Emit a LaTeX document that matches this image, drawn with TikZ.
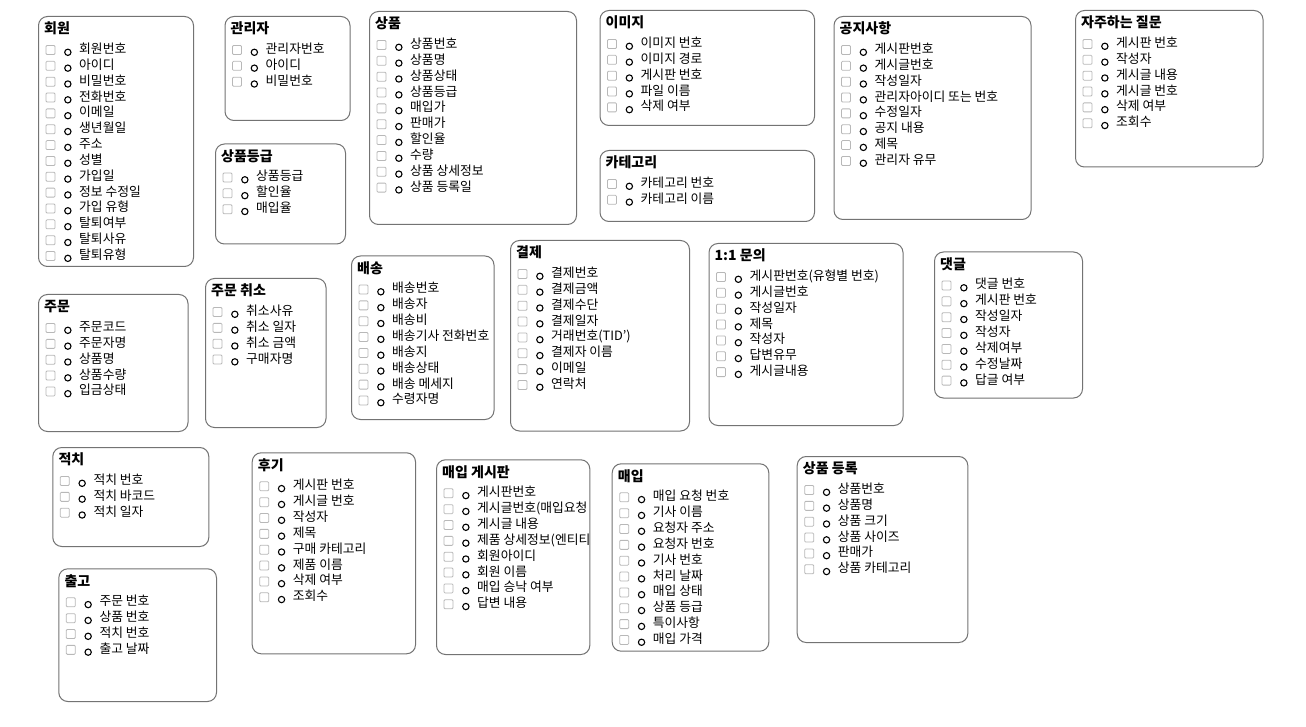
\documentclass[tikz,border=0pt]{standalone}
\usepackage{fontspec}
\setmainfont{Noto Sans CJK KR}
\usetikzlibrary{positioning,calc}

\begin{document}
\begin{tikzpicture}[
  x=1pt, y=-1pt,
  font=\fontsize{12.8}{15}\selectfont,
  tbl/.style={draw=black!55, line width=1pt, rounded corners=9pt, anchor=north west,
              inner sep=0pt, fill=white},
  ttl/.style={font=\fontsize{14}{16}\selectfont\bfseries, anchor=west, inner sep=0pt},
  fld/.style={anchor=west, inner sep=0pt, text height=9.5pt, text depth=2.5pt},
  chk/.style={draw=black!28, line width=0.8pt, rounded corners=1pt, minimum size=9pt,
              inner sep=0pt, outer sep=0pt},
  dot/.style={circle, draw=black, line width=1.1pt, minimum size=6.3pt, inner sep=0pt,
              outer sep=0pt},
]
\useasboundingbox (0,0) rectangle (1306,727);

%% ---------- top row ----------
\node[tbl, minimum width=155pt, minimum height=250pt] (memb) at (38,16) {};
\node[ttl] (memb-t) at ($(memb.north west)+(6,12.5)$) {회원};
\foreach \t [count=\i] in {회원번호,아이디,비밀번호,전화번호,이메일,생년월일,주소,성별,가입일,정보 수정일,가입 유형,탈퇴여부,탈퇴사유,탈퇴유형} {
  \node[fld] (memb-\i) at ($(memb.north west)+(41,{34+15.85*(\i-1)})$) {\t};
  \node[chk, left=24pt of memb-\i] (memb-c\i) {};
  \node[dot, left=8pt of memb-\i, yshift=-2.3pt] (memb-o\i) {};
}

\node[tbl, minimum width=125pt, minimum height=104pt] (admin) at (224.5,16) {};
\node[ttl] (admin-t) at ($(admin.north west)+(6,12.5)$) {관리자};
\foreach \t [count=\i] in {관리자번호,아이디,비밀번호} {
  \node[fld] (admin-\i) at ($(admin.north west)+(41,{34+15.85*(\i-1)})$) {\t};
  \node[chk, left=24pt of admin-\i] (admin-c\i) {};
  \node[dot, left=8pt of admin-\i, yshift=-2.3pt] (admin-o\i) {};
}

\node[tbl, minimum width=130pt, minimum height=100pt] (grade) at (215,143.5) {};
\node[ttl] (grade-t) at ($(grade.north west)+(6,12.5)$) {상품등급};
\foreach \t [count=\i] in {상품등급,할인율,매입율} {
  \node[fld] (grade-\i) at ($(grade.north west)+(41,{34+15.85*(\i-1)})$) {\t};
  \node[chk, left=24pt of grade-\i] (grade-c\i) {};
  \node[dot, left=8pt of grade-\i, yshift=-2.3pt] (grade-o\i) {};
}

\node[tbl, minimum width=207pt, minimum height=213pt] (prod) at (369,11) {};
\node[ttl] (prod-t) at ($(prod.north west)+(6,12.5)$) {상품};
\foreach \t [count=\i] in {상품번호,상품명,상품상태,상품등급,매입가,판매가,할인율,수량,상품 상세정보,상품 등록일} {
  \node[fld] (prod-\i) at ($(prod.north west)+(41,{34+15.85*(\i-1)})$) {\t};
  \node[chk, left=24pt of prod-\i] (prod-c\i) {};
  \node[dot, left=8pt of prod-\i, yshift=-2.3pt] (prod-o\i) {};
}

\node[tbl, minimum width=214.5pt, minimum height=115pt] (img) at (599.5,10) {};
\node[ttl] (img-t) at ($(img.north west)+(6,12.5)$) {이미지};
\foreach \t [count=\i] in {이미지 번호,이미지 경로,게시판 번호,파일 이름,삭제 여부} {
  \node[fld] (img-\i) at ($(img.north west)+(41,{34+15.85*(\i-1)})$) {\t};
  \node[chk, left=24pt of img-\i] (img-c\i) {};
  \node[dot, left=8pt of img-\i, yshift=-2.3pt] (img-o\i) {};
}

\node[tbl, minimum width=214.5pt, minimum height=71pt] (cat) at (599.5,150) {};
\node[ttl] (cat-t) at ($(cat.north west)+(6,12.5)$) {카테고리};
\foreach \t [count=\i] in {카테고리 번호,카테고리 이름} {
  \node[fld] (cat-\i) at ($(cat.north west)+(41,{34+15.85*(\i-1)})$) {\t};
  \node[chk, left=24pt of cat-\i] (cat-c\i) {};
  \node[dot, left=8pt of cat-\i, yshift=-2.3pt] (cat-o\i) {};
}

\node[tbl, minimum width=197pt, minimum height=203pt] (notice) at (833.5,16) {};
\node[ttl] (notice-t) at ($(notice.north west)+(6,12.5)$) {공지사항};
\foreach \t [count=\i] in {게시판번호,게시글번호,작성일자,관리자아이디 또는 번호,수정일자,공지 내용,제목,관리자 유무} {
  \node[fld] (notice-\i) at ($(notice.north west)+(41,{34+15.85*(\i-1)})$) {\t};
  \node[chk, left=24pt of notice-\i] (notice-c\i) {};
  \node[dot, left=8pt of notice-\i, yshift=-2.3pt] (notice-o\i) {};
}

\node[tbl, minimum width=187.5pt, minimum height=156.5pt] (faq) at (1075,10) {};
\node[ttl] (faq-t) at ($(faq.north west)+(6,12.5)$) {자주하는 질문};
\foreach \t [count=\i] in {게시판 번호,작성자,게시글 내용,게시글 번호,삭제 여부,조회수} {
  \node[fld] (faq-\i) at ($(faq.north west)+(41,{34+15.85*(\i-1)})$) {\t};
  \node[chk, left=24pt of faq-\i] (faq-c\i) {};
  \node[dot, left=8pt of faq-\i, yshift=-2.3pt] (faq-o\i) {};
}

%% ---------- middle row ----------
\node[tbl, minimum width=149.5pt, minimum height=137pt] (order) at (38,294) {};
\node[ttl] (order-t) at ($(order.north west)+(6,12.5)$) {주문};
\foreach \t [count=\i] in {주문코드,주문자명,상품명,상품수량,입금상태} {
  \node[fld] (order-\i) at ($(order.north west)+(41,{34+15.85*(\i-1)})$) {\t};
  \node[chk, left=24pt of order-\i] (order-c\i) {};
  \node[dot, left=8pt of order-\i, yshift=-2.3pt] (order-o\i) {};
}

\node[tbl, minimum width=120.5pt, minimum height=149pt] (cancel) at (205,278) {};
\node[ttl] (cancel-t) at ($(cancel.north west)+(6,12.5)$) {주문 취소};
\foreach \t [count=\i] in {취소사유,취소 일자,취소 금액,구매자명} {
  \node[fld] (cancel-\i) at ($(cancel.north west)+(41,{34+15.85*(\i-1)})$) {\t};
  \node[chk, left=24pt of cancel-\i] (cancel-c\i) {};
  \node[dot, left=8pt of cancel-\i, yshift=-2.3pt] (cancel-o\i) {};
}

\node[tbl, minimum width=142.5pt, minimum height=163.5pt] (ship) at (351,255.5) {};
\node[ttl] (ship-t) at ($(ship.north west)+(6,12.5)$) {배송};
\begin{scope}
  \clip (ship.north west) rectangle (ship.south east);
  \foreach \t [count=\i] in {배송번호,배송자,배송비,배송기사 전화번호,배송지,배송상태,배송 메세지,수령자명} {
    \node[fld] (ship-\i) at ($(ship.north west)+(41,{34+15.85*(\i-1)})$) {\t};
    \node[chk, left=24pt of ship-\i] (ship-c\i) {};
    \node[dot, left=8pt of ship-\i, yshift=-2.3pt] (ship-o\i) {};
  }
\end{scope}

\node[tbl, minimum width=179pt, minimum height=190.5pt] (pay) at (510,240) {};
\node[ttl] (pay-t) at ($(pay.north west)+(6,12.5)$) {결제};
\foreach \t [count=\i] in {결제번호,결제금액,결제수단,결제일자,거래번호(TID'),결제자 이름,이메일,연락처} {
  \node[fld] (pay-\i) at ($(pay.north west)+(41,{34+15.85*(\i-1)})$) {\t};
  \node[chk, left=24pt of pay-\i] (pay-c\i) {};
  \node[dot, left=8pt of pay-\i, yshift=-2.3pt] (pay-o\i) {};
}

\node[tbl, minimum width=194pt, minimum height=182pt] (qna) at (708.5,243) {};
\node[ttl] (qna-t) at ($(qna.north west)+(6,12.5)$) {1:1 문의};
\foreach \t [count=\i] in {게시판번호(유형별 번호),게시글번호,작성일자,제목,작성자,답변유무,게시글내용} {
  \node[fld] (qna-\i) at ($(qna.north west)+(41,{34+15.85*(\i-1)})$) {\t};
  \node[chk, left=24pt of qna-\i] (qna-c\i) {};
  \node[dot, left=8pt of qna-\i, yshift=-2.3pt] (qna-o\i) {};
}

\node[tbl, minimum width=148pt, minimum height=146pt] (cmt) at (934,251.5) {};
\node[ttl] (cmt-t) at ($(cmt.north west)+(6,12.5)$) {댓글};
\foreach \t [count=\i] in {댓글 번호,게시판 번호,작성일자,작성자,삭제여부,수정날짜,답글 여부} {
  \node[fld] (cmt-\i) at ($(cmt.north west)+(41,{34+15.85*(\i-1)})$) {\t};
  \node[chk, left=24pt of cmt-\i] (cmt-c\i) {};
  \node[dot, left=8pt of cmt-\i, yshift=-2.3pt] (cmt-o\i) {};
}

%% ---------- bottom row ----------
\node[tbl, minimum width=156pt, minimum height=99pt] (stock) at (52.3,447) {};
\node[ttl] (stock-t) at ($(stock.north west)+(6,12.5)$) {적치};
\foreach \t [count=\i] in {적치 번호,적치 바코드,적치 일자} {
  \node[fld] (stock-\i) at ($(stock.north west)+(41,{34+15.85*(\i-1)})$) {\t};
  \node[chk, left=24pt of stock-\i] (stock-c\i) {};
  \node[dot, left=8pt of stock-\i, yshift=-2.3pt] (stock-o\i) {};
}

\node[tbl, minimum width=157.7pt, minimum height=132.7pt] (outb) at (58.3,568.3) {};
\node[ttl] (outb-t) at ($(outb.north west)+(6,12.5)$) {출고};
\foreach \t [count=\i] in {주문 번호,상품 번호,적치 번호,출고 날짜} {
  \node[fld] (outb-\i) at ($(outb.north west)+(41,{34+15.85*(\i-1)})$) {\t};
  \node[chk, left=24pt of outb-\i] (outb-c\i) {};
  \node[dot, left=8pt of outb-\i, yshift=-2.3pt] (outb-o\i) {};
}

\node[tbl, minimum width=163.3pt, minimum height=201pt] (review) at (251.7,452.3) {};
\node[ttl] (review-t) at ($(review.north west)+(6,12.5)$) {후기};
\foreach \t [count=\i] in {게시판 번호,게시글 번호,작성자,제목,구매 카테고리,제품 이름,삭제 여부,조회수} {
  \node[fld] (review-\i) at ($(review.north west)+(41,{34+15.85*(\i-1)})$) {\t};
  \node[chk, left=24pt of review-\i] (review-c\i) {};
  \node[dot, left=8pt of review-\i, yshift=-2.3pt] (review-o\i) {};
}

\node[tbl, minimum width=153.3pt, minimum height=194.7pt] (bbuy) at (436,459.3) {};
\node[ttl] (bbuy-t) at ($(bbuy.north west)+(6,12.5)$) {매입 게시판};
\begin{scope}
  \clip (bbuy.north west) rectangle ($(bbuy.south east)+(-1,0)$);
  \foreach \t [count=\i] in {게시판번호,게시글번호(매입요청,게시글 내용,제품 상세정보(엔티티,회원아이디,회원 이름,매입 승낙 여부,답변 내용} {
    \node[fld] (bbuy-\i) at ($(bbuy.north west)+(41,{34+15.85*(\i-1)})$) {\t};
    \node[chk, left=24pt of bbuy-\i] (bbuy-c\i) {};
    \node[dot, left=8pt of bbuy-\i, yshift=-2.3pt] (bbuy-o\i) {};
  }
\end{scope}

\node[tbl, minimum width=156.6pt, minimum height=187.4pt] (buy) at (611.7,463.3) {};
\node[ttl] (buy-t) at ($(buy.north west)+(6,12.5)$) {매입};
\foreach \t [count=\i] in {매입 요청 번호,기사 이름,요청자 주소,요청자 번호,기사 번호,처리 날짜,매입 상태,상품 등급,특이사항,매입 가격} {
  \node[fld] (buy-\i) at ($(buy.north west)+(41,{34+15.85*(\i-1)})$) {\t};
  \node[chk, left=24pt of buy-\i] (buy-c\i) {};
  \node[dot, left=8pt of buy-\i, yshift=-2.3pt] (buy-o\i) {};
}

\node[tbl, minimum width=170.6pt, minimum height=186pt] (reg) at (796.7,456) {};
\node[ttl] (reg-t) at ($(reg.north west)+(6,12.5)$) {상품 등록};
\foreach \t [count=\i] in {상품번호,상품명,상품 크기,상품 사이즈,판매가,상품 카테고리} {
  \node[fld] (reg-\i) at ($(reg.north west)+(41,{34+15.85*(\i-1)})$) {\t};
  \node[chk, left=24pt of reg-\i] (reg-c\i) {};
  \node[dot, left=8pt of reg-\i, yshift=-2.3pt] (reg-o\i) {};
}

\end{tikzpicture}
\end{document}
